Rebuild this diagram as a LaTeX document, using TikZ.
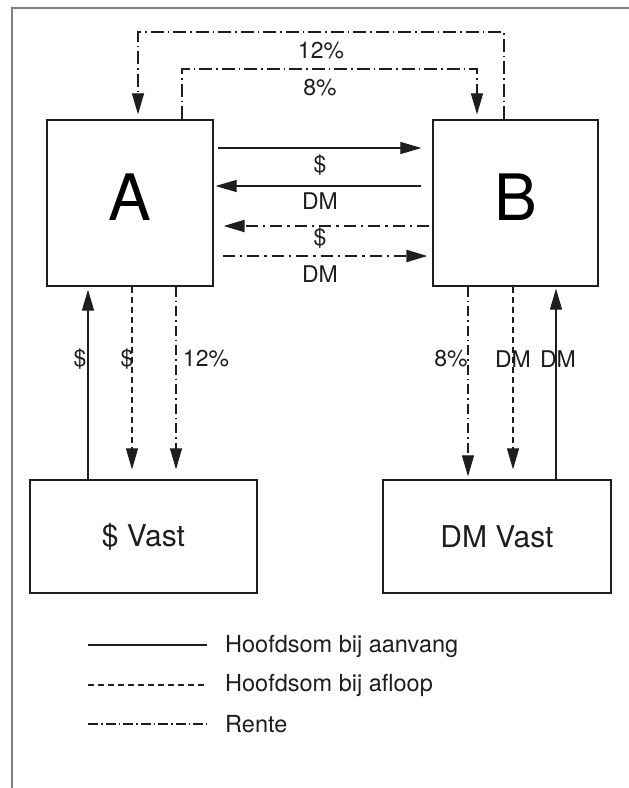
\documentclass[tikz,border=0pt]{standalone}
\usepackage{fontspec}
\setmainfont{TeX Gyre Heros}
\usetikzlibrary{arrows.meta}
\definecolor{ink}{HTML}{1E1E1E}
\definecolor{frame}{HTML}{808080}
\tikzset{
  box/.style={draw=ink, line width=1.2pt, inner sep=0pt, fill=none},
  bigletter/.style={font=\fontsize{64}{70}\selectfont, text=black, inner sep=0pt},
  vastfont/.style={font=\fontsize{30}{34}\selectfont, text=ink},
  lbl/.style={font=\fontsize{23}{27}\selectfont, text=ink, inner sep=0pt},
  legtext/.style={font=\fontsize{23.5}{27}\selectfont, text=ink, inner sep=0pt, anchor=west},
  tip/.style={-{Triangle[length=21pt,width=12pt]}},
  solidflow/.style={draw=ink, line width=1.1pt},
  dashflow/.style={draw=ink, line width=1.1pt, dash pattern=on 6pt off 4pt},
  rente/.style={draw=ink, line width=1.1pt, dash pattern=on 13pt off 4pt on 1.5pt off 4pt},
  rentethick/.style={draw=ink, line width=2pt, dash pattern=on 12pt off 5pt on 2.5pt off 5pt},
  rentevert/.style={draw=ink, line width=1.1pt, dash pattern=on 10pt off 4pt on 1.5pt off 4pt},
  legrente/.style={draw=ink, line width=1.1pt, dash pattern=on 10pt off 3pt on 1.5pt off 3pt},
}
\begin{document}
\begin{tikzpicture}[x=1pt,y=-1pt]
\useasboundingbox (0,0) rectangle (629,788);
\fill[white] (0,0) rectangle (629,788);
% outer frame (top and left only)
\draw[frame, line width=1.4pt] (629,8) -- (12,8) -- (12,788);

% main boxes
\node[box, minimum width=166pt, minimum height=166pt] (A) at (130,203) {};
\node[box, minimum width=165pt, minimum height=166pt] (B) at (515.5,203) {};
\node[bigletter] (Al) at (130,197) {A};
\node[bigletter] (Bl) at (515.5,197) {B};
\node[box, vastfont, minimum width=227pt, minimum height=113pt] (SV) at (143.5,536.5) {\$ Vast};
\node[box, vastfont, minimum width=228pt, minimum height=113pt] (DV) at (497,536.5) {DM Vast};

% top interest loops
\coordinate (t12r) at (504,32);
\coordinate (t12l) at (138,32);
\coordinate (t8l) at (182,69);
\coordinate (t8r) at (477,69);
\draw[rente, tip, shorten >=5pt] (B.north -| t12r) -- (t12r) -- (t12l) -- (A.north -| t12l);
\draw[rente, tip, shorten >=5pt] (A.north -| t8l) -- (t8l) -- (t8r) -- (B.north -| t8r);
\node[lbl] (p12) at (321,51) {12\%};
\node[lbl] (p8) at (320,88) {8\%};

% middle horizontal flows
\coordinate (h1) at (0,148);
\coordinate (h2) at (0,186);
\coordinate (h3) at (0,226);
\coordinate (h4) at (0,256);
\draw[solidflow, tip, shorten <=4pt, shorten >=11pt] (A.east |- h1) -- (B.west |- h1);
\draw[solidflow, tip, shorten <=11pt, shorten >=2pt] (B.west |- h2) -- (A.east |- h2);
\draw[rentethick, tip, shorten <=3pt, shorten >=10pt] (B.west |- h3) -- (A.east |- h3);
\draw[rentethick, tip, shorten <=9pt, shorten >=5pt] (A.east |- h4) -- (B.west |- h4);
\node[lbl] (m1) at (320,165) {\$};
\node[lbl] (m2) at (320,201) {DM};
\node[lbl] (m3) at (320,238) {\$};
\node[lbl] (m4) at (320,274) {DM};

% vertical flows, left
\coordinate (v1) at (88,0);
\coordinate (v2) at (132,0);
\coordinate (v3) at (176,0);
\draw[solidflow, tip, shorten >=3pt] (SV.north -| v1) -- (A.south -| v1);
\draw[dashflow, tip, shorten >=10pt] (A.south -| v2) -- (SV.north -| v2);
\draw[rentevert, tip, shorten >=10pt] (A.south -| v3) -- (SV.north -| v3);
\node[lbl] (d1) at (80,359) {\$};
\node[lbl] (d2) at (127,359) {\$};
\node[lbl] (d3) at (206,359) {12\%};

% vertical flows, right
\coordinate (w1) at (468,0);
\coordinate (w2) at (513,0);
\coordinate (w3) at (556,0);
\draw[rentevert, tip, shorten >=3pt] (B.south -| w1) -- (DV.north -| w1);
\draw[dashflow, tip, shorten >=10pt] (B.south -| w2) -- (DV.north -| w2);
\draw[solidflow, tip, shorten >=2pt] (DV.north -| w3) -- (B.south -| w3);
\node[lbl] (e1) at (451,359) {8\%};
\node[lbl] (e2) at (513,359) {DM};
\node[lbl] (e3) at (558,359) {DM};

% legend
\node[legtext] (L1) at (225,646) {Hoofdsom bij aanvang};
\node[legtext] (L2) at (225,685) {Hoofdsom bij afloop};
\node[legtext] (L3) at (225,724) {Rente};
\coordinate (k1) at (88,645);
\coordinate (k1e) at (207,645);
\coordinate (k2) at (88,685);
\coordinate (k2e) at (207,685);
\coordinate (k3) at (88,724);
\coordinate (k3e) at (207,724);
\draw[solidflow] (k1) -- (k1e);
\draw[dashflow] (k2) -- (k2e);
\draw[legrente] (k3) -- (k3e);
\end{tikzpicture}
\end{document}
